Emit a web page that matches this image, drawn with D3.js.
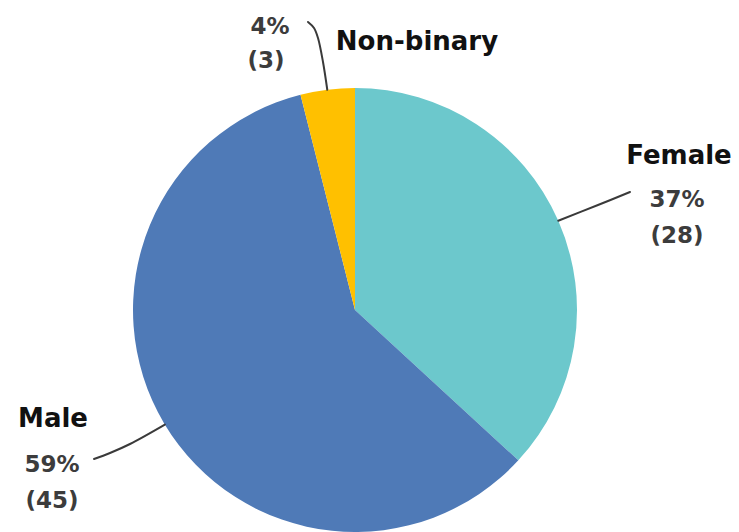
<!DOCTYPE html>
<html>
<head>
<meta charset="utf-8">
<script src="https://cdn.jsdelivr.net/npm/d3@7/dist/d3.min.js"></script>
<style>
  html, body { margin: 0; padding: 0; background: #fff; }
  svg { display: block; }
  text { font-family: "DejaVu Sans", sans-serif; font-weight: bold; }
</style>
</head>
<body>
<svg id="chart" width="739" height="532"></svg>
<script>
const categories = ["Female", "Male", "Non-binary"];
const counts = [28, 45, 3];
const percentLabels = ["37%", "59%", "4%"];
const colors = ["#6CC8CC", "#4F7AB7", "#FFC000"];

const W = 739, H = 532;
const cx = 355, cy = 310, R = 222;
const svg = d3.select("#chart");
const g = svg.append("g").attr("transform", `translate(${cx},${cy})`);

const pie = d3.pie().sort(null).value(d => d.value);
const data = categories.map((c, i) => ({ name: c, value: counts[i], pct: percentLabels[i], color: colors[i] }));
const arcs = pie(data);
const arc = d3.arc().innerRadius(0).outerRadius(R);

g.selectAll("path.slice").data(arcs).enter().append("path")
  .attr("class", "slice")
  .attr("d", arc)
  .attr("fill", d => d.data.color);

// label layout (page coords); leader starts on the rim at "angle"
const layout = {
  "Female":     { name: [679, 164], pct: [677, 207], cnt: [677, 243],
                  angle: 1.157, pts: [[598, 205], [630, 192]] },
  "Male":       { name: [53, 427], pct: [52, 472], cnt: [52, 508],
                  angle: 4.17, pts: [[130, 444], [110, 453], [94, 459]] },
  "Non-binary": { name: [417, 50], pct: [270, 34], cnt: [266, 68],
                  angle: 6.158, pts: [[323, 62], [318, 38], [314, 28], [308, 22]] }
};

const line = d3.line().curve(d3.curveCatmullRom.alpha(0.5));

arcs.forEach(a => {
  const L = layout[a.data.name];
  const ang = L.angle;
  const sx = cx + R * Math.sin(ang), sy = cy - R * Math.cos(ang);
  svg.append("path")
    .attr("d", line([[sx, sy], ...L.pts]))
    .attr("fill", "none").attr("stroke", "#3a3a3a").attr("stroke-width", 2)
    .attr("stroke-linecap", "round");
  svg.append("text").attr("x", L.name[0]).attr("y", L.name[1])
    .attr("text-anchor", "middle").attr("font-size", 26).attr("fill", "#111")
    .text(a.data.name);
  svg.append("text").attr("x", L.pct[0]).attr("y", L.pct[1])
    .attr("text-anchor", "middle").attr("font-size", 23).attr("fill", "#3c3c3c")
    .text(a.data.pct);
  svg.append("text").attr("x", L.cnt[0]).attr("y", L.cnt[1])
    .attr("text-anchor", "middle").attr("font-size", 23).attr("fill", "#3c3c3c")
    .text(`(${a.data.value})`);
});
</script>
</body>
</html>
